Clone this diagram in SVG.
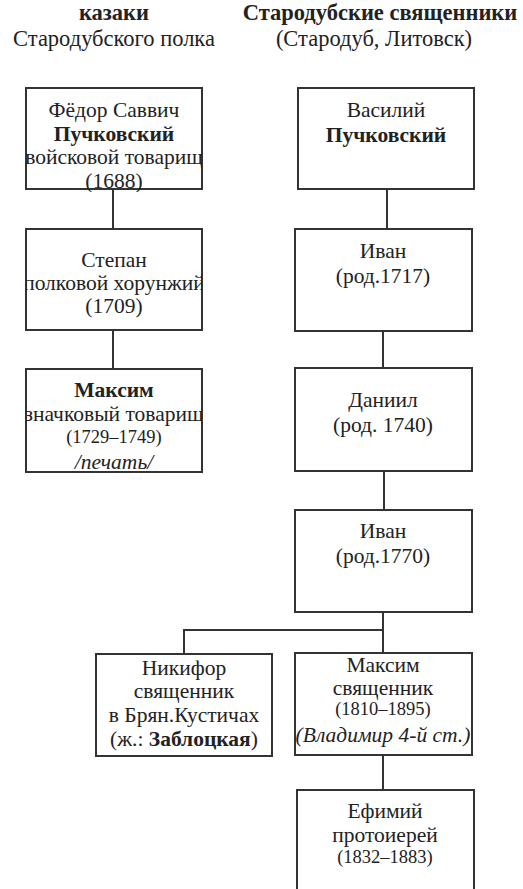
<svg xmlns="http://www.w3.org/2000/svg" width="523" height="889" viewBox="0 0 523 889">
<style>
text{font-family:"Liberation Serif","Times New Roman",serif;font-size:21.5px;fill:#222;text-anchor:middle}
.b{font-weight:bold}
.i{font-style:italic}
.s{font-size:18.5px}
.h{font-size:22.5px}
.box{fill:#fff;stroke:#333;stroke-width:2}
.c line{stroke:#333;stroke-width:2}
</style>
<defs>
<clipPath id="k1"><rect x="26" y="88" width="176" height="104"/></clipPath>
<clipPath id="k2"><rect x="26" y="229" width="176" height="101"/></clipPath>
<clipPath id="k3"><rect x="26" y="369" width="176" height="106"/></clipPath>
<clipPath id="k9"><rect x="295" y="653" width="177" height="102"/></clipPath>
</defs>
<rect x="0" y="0" width="523" height="889" fill="#fff"/>
<g id="headers">
<text x="114" y="20" class="b" style="font-size:22.5px">казаки</text>
<text x="114" y="46" class="h">Стародубского полка</text>
<text x="380" y="20" class="b" style="font-size:22.5px">Стародубские священники</text>
<text x="374" y="46" class="h">(Стародуб, Литовск)</text>
</g>
<g class="c" id="connectors">
<line x1="113" y1="189" x2="113" y2="229"/>
<line x1="113" y1="330" x2="113" y2="369"/>
<line x1="387" y1="189" x2="387" y2="229"/>
<line x1="383" y1="331" x2="383" y2="368"/>
<line x1="384" y1="471" x2="384" y2="510"/>
<line x1="383" y1="612" x2="383" y2="653"/>
<line x1="183" y1="630" x2="384" y2="630"/>
<line x1="184" y1="629" x2="184" y2="654"/>
<line x1="383" y1="755" x2="383" y2="790"/>
</g>
<g id="n1"><rect class="box" x="26" y="88" width="176" height="101"/>
<g clip-path="url(#k1)">
<text x="114" y="117">Фёдор Саввич</text>
<text x="114" y="141" class="b">Пучковский</text>
<text x="114" y="164">войсковой товарищ</text>
<text x="114" y="188">(1688)</text></g></g>
<g id="n2"><rect class="box" x="26" y="229" width="176" height="101"/>
<g clip-path="url(#k2)">
<text x="114" y="267">Степан</text>
<text x="114" y="290">полковой хорунжий</text>
<text x="114" y="313">(1709)</text></g></g>
<g id="n3"><rect class="box" x="26" y="369" width="176" height="103"/>
<g clip-path="url(#k3)">
<text x="114" y="397" class="b">Максим</text>
<text x="114" y="421">значковый товарищ</text>
<text x="114" y="443" class="s">(1729–1749)</text>
<text x="114" y="469" class="i">/печать/</text></g></g>
<g id="n4"><rect class="box" x="298" y="88" width="176" height="101"/>
<text x="386" y="117">Василий</text>
<text x="386" y="142" class="b">Пучковский</text></g>
<g id="n5"><rect class="box" x="295" y="229" width="177" height="102"/>
<text x="383" y="258">Иван</text>
<text x="383" y="283">(род.1717)</text></g>
<g id="n6"><rect class="box" x="295" y="368" width="177" height="103"/>
<text x="383" y="407">Даниил</text>
<text x="383" y="432">(род. 1740)</text></g>
<g id="n7"><rect class="box" x="295" y="510" width="177" height="102"/>
<text x="383" y="538">Иван</text>
<text x="383" y="563">(род.1770)</text></g>
<g id="n8"><rect class="box" x="96" y="654" width="176" height="102"/>
<text x="184" y="675">Никифор</text>
<text x="184" y="698">священник</text>
<text x="184" y="722">в Брян.Кустичах</text>
<text x="184" y="746">(ж.: <tspan class="b">Заблоцкая</tspan>)</text></g>
<g id="n9"><rect class="box" x="295" y="653" width="177" height="102"/>
<g clip-path="url(#k9)">
<text x="383" y="672">Максим</text>
<text x="383" y="695">священник</text>
<text x="383" y="715" class="s">(1810–1895)</text>
<text x="383" y="742" class="i">(Владимир 4-й ст.)</text></g></g>
<g id="n10"><rect class="box" x="297" y="790" width="177" height="110"/>
<text x="385" y="818">Ефимий</text>
<text x="385" y="842">протоиерей</text>
<text x="385" y="863" class="s">(1832–1883)</text></g>
</svg>
